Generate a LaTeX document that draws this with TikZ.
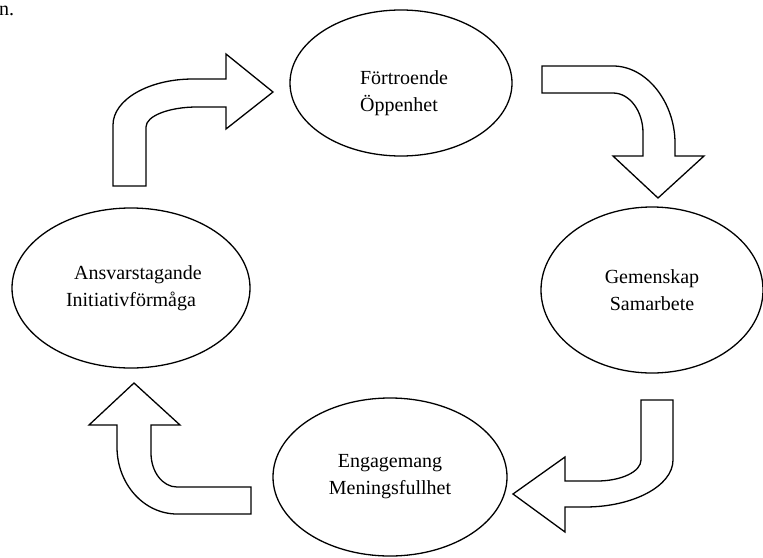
\documentclass[tikz,border=0pt]{standalone}
\usepackage{fontspec}
\setmainfont{Liberation Serif}
\usetikzlibrary{shapes.geometric}
\begin{document}
\begin{tikzpicture}[x=1pt,y=-1pt,
  bubble/.style={draw=black,line width=1.3pt,ellipse,inner sep=0pt,align=center,
    font=\fontsize{20}{27}\selectfont},
  bubbletext/.style={inner sep=0pt,font=\fontsize{20}{27}\selectfont},
  blockarrow/.style={draw=black,line width=1.3pt,fill=white,line join=miter}]
\useasboundingbox (0,0) rectangle (763,557);
\node[anchor=base west,inner sep=0pt,font=\fontsize{20}{24}\selectfont] (frag) at (-1,15) {n.};
\node[bubble,minimum width=222pt,minimum height=146pt] (trust) at (401,83) {};
\node[bubbletext,align=left] (trusttext) at ([xshift=3pt,yshift=-10pt]trust.center) {Förtroende\\Öppenhet};
\node[bubble,minimum width=222pt,minimum height=166pt] (comm) at (652,290) {Gemenskap\\Samarbete};
\node[bubble,minimum width=234pt,minimum height=158pt] (eng) at (390,477) {Engagemang\\Meningsfullhet};
\node[bubble,minimum width=238pt,minimum height=160pt] (resp) at (131,288) {\hspace*{14pt}Ansvarstagande\\Initiativförmåga};
% arrow from resp to trust
\draw[blockarrow] (113,186) -- (113,125) .. controls (113,99.6) and (148.8,79) .. (193,79)
  -- (226,79) -- (226,54) -- (273,92) -- (226,129) -- (226,107) -- (197,107)
  .. controls (168.8,107) and (146,116) .. (146,127) -- (146,186) -- cycle;
% arrow from trust to comm
\draw[blockarrow] (542,66) -- (613,66) .. controls (647.2,66) and (675,103) .. (675,143)
  -- (675,156) -- (704,156) -- (658,198) -- (613,156) -- (643,156) -- (643,133)
  .. controls (643,111) and (629.6,93) .. (613,93) -- (542,93) -- cycle;
% arrow from comm to eng
\draw[blockarrow] (641,400) -- (673,400) -- (673,460) .. controls (673,486) and (633,507) .. (585,507)
  -- (565,507) -- (565,532) -- (513,494) -- (565,457) -- (565,481) -- (597,481)
  .. controls (621.3,481) and (641,471.6) .. (641,460) -- cycle;
% arrow from eng to resp
\draw[blockarrow] (251,487) -- (251,514) -- (177,514) .. controls (143.9,514) and (117,484) .. (117,447)
  -- (117,425) -- (89,425) -- (134,383) -- (180,425) -- (151,425) -- (151,453)
  .. controls (151,471.8) and (162.6,487) .. (177,487) -- cycle;
\end{tikzpicture}
\end{document}
